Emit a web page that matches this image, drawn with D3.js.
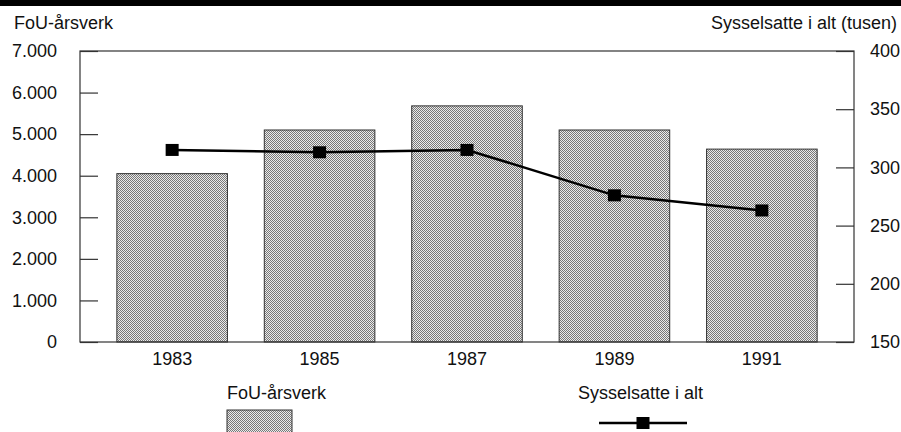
<!DOCTYPE html>
<html>
<head>
<meta charset="utf-8">
<script src="https://cdn.jsdelivr.net/npm/d3@7"></script>
<style>
    body { margin: 0; background: #fff; }
    svg { display: block; font-family: "Liberation Sans", Arial, sans-serif; }
</style>
</head>
<body>
<div id="chart"></div>
<script>
// chart data
const years = ["1983", "1985", "1987", "1989", "1991"];
const fouArsverk = [4050, 5100, 5680, 5100, 4640];
const sysselsatte = [315, 313, 315, 276, 263];
const leftTicks = [0, 1000, 2000, 3000, 4000, 5000, 6000, 7000];
const rightTicks = [150, 200, 250, 300, 350, 400];
const leftTitle = "FoU-årsverk";
const rightTitle = "Sysselsatte i alt (tusen)";
const barLegend = "FoU-årsverk";
const lineLegend = "Sysselsatte i alt";

function drawChart()
{
    const width = 901;
    const height = 432;
    const margin = ({top: 51, right: 47, bottom: 90, left: 80});
    const plot_width = width - margin.left - margin.right;
    const plot_height = height - margin.top - margin.bottom;

    const no = d3.formatLocale({decimal: ",", thousands: ".", grouping: [3], currency: ["", ""]});
    const fmt = no.format(",");

    const xScale = d3.scaleBand(years, [margin.left, margin.left + plot_width])
        .paddingInner(0.25)
        .paddingOuter(0.25);
    const yLeft = d3.scaleLinear([0, 7000], [margin.top + plot_height, margin.top]);
    const yRight = d3.scaleLinear([150, 400], [margin.top + plot_height, margin.top]);

    const svg = d3.select("#chart").append("svg")
        .attr("width", width)
        .attr("height", height)
        .attr("viewBox", [0, 0, width, height]);

    // dithered grey fill like the printed original
    const pat = svg.append("defs").append("pattern")
        .attr("id", "dither")
        .attr("patternUnits", "userSpaceOnUse")
        .attr("width", 2)
        .attr("height", 2)
        .attr("shape-rendering", "crispEdges");
    pat.append("rect").attr("width", 2).attr("height", 2).attr("fill", "#ebebeb");
    pat.append("rect").attr("x", 0).attr("y", 0).attr("width", 1).attr("height", 1).attr("fill", "#787878");
    pat.append("rect").attr("x", 1).attr("y", 1).attr("width", 1).attr("height", 1).attr("fill", "#787878");

    // black band at the top
    svg.append("rect")
        .attr("x", 0).attr("y", 0)
        .attr("width", width).attr("height", 6)
        .attr("fill", "#000");

    // titles
    svg.append("text")
        .attr("x", 14).attr("y", 29)
        .attr("font-size", 18)
        .attr("fill", "#111")
        .text(leftTitle);
    svg.append("text")
        .attr("x", 897).attr("y", 29)
        .attr("text-anchor", "end")
        .attr("font-size", 18)
        .attr("fill", "#111")
        .text(rightTitle);

    // bars
    svg.append("g")
        .selectAll("rect")
        .data(fouArsverk)
        .join("rect")
        .attr("x", (d, i) => xScale(years[i]))
        .attr("width", xScale.bandwidth())
        .attr("y", d => yLeft(d))
        .attr("height", d => yLeft(0) - yLeft(d))
        .attr("fill", "url(#dither)")
        .attr("stroke", "#333")
        .attr("stroke-width", 1);

    // frame
    svg.append("rect")
        .attr("x", margin.left)
        .attr("y", margin.top)
        .attr("width", plot_width)
        .attr("height", plot_height)
        .attr("fill", "none")
        .attr("stroke", "#333")
        .attr("stroke-width", 1.2);

    // left axis
    svg.append("g")
        .attr("transform", `translate(${margin.left},0)`)
        .call(d3.axisLeft(yLeft).tickValues(leftTicks).tickFormat(fmt).tickSizeInner(-18).tickSizeOuter(0).tickPadding(23))
        .call(g => g.select(".domain").remove())
        .call(g => g.selectAll(".tick line").attr("stroke", "#333").attr("stroke-width", 1.2))
        .call(g => g.selectAll(".tick text")
            .attr("font-size", 18)
            .attr("font-family", "Liberation Sans, Arial, sans-serif")
            .attr("fill", "#111"));

    // right axis
    svg.append("g")
        .attr("transform", `translate(${margin.left + plot_width},0)`)
        .call(d3.axisRight(yRight).tickValues(rightTicks).tickSizeInner(-18).tickSizeOuter(0).tickPadding(16))
        .call(g => g.select(".domain").remove())
        .call(g => g.selectAll(".tick line").attr("stroke", "#333").attr("stroke-width", 1.2))
        .call(g => g.selectAll(".tick text")
            .attr("font-size", 18)
            .attr("font-family", "Liberation Sans, Arial, sans-serif")
            .attr("fill", "#111"));

    // x axis labels
    svg.append("g")
        .attr("transform", `translate(0,${margin.top + plot_height})`)
        .call(d3.axisBottom(xScale).tickSize(0).tickPadding(10))
        .call(g => g.select(".domain").remove())
        .call(g => g.selectAll(".tick text")
            .attr("font-size", 18)
            .attr("font-family", "Liberation Sans, Arial, sans-serif")
            .attr("fill", "#111"));

    // line series
    const cx = (d, i) => xScale(years[i]) + xScale.bandwidth() / 2;
    const line = d3.line()
        .x(cx)
        .y(d => yRight(d));
    svg.append("path")
        .datum(sysselsatte)
        .attr("d", line)
        .attr("fill", "none")
        .attr("stroke", "#000")
        .attr("stroke-width", 2.5);
    svg.append("g")
        .selectAll("rect")
        .data(sysselsatte)
        .join("rect")
        .attr("x", (d, i) => cx(d, i) - 6.5)
        .attr("y", d => yRight(d) - 6)
        .attr("width", 13)
        .attr("height", 12)
        .attr("fill", "#000");

    // legend
    const legend = svg.append("g");
    legend.append("text")
        .attr("x", 227).attr("y", 399)
        .attr("font-size", 18)
        .attr("fill", "#111")
        .text(barLegend);
    legend.append("rect")
        .attr("x", 227).attr("y", 410)
        .attr("width", 65).attr("height", 30)
        .attr("fill", "url(#dither)")
        .attr("stroke", "#333");
    legend.append("text")
        .attr("x", 578).attr("y", 399)
        .attr("font-size", 18)
        .attr("fill", "#111")
        .text(lineLegend);
    legend.append("line")
        .attr("x1", 599).attr("x2", 687)
        .attr("y1", 423).attr("y2", 423)
        .attr("stroke", "#000")
        .attr("stroke-width", 2.5);
    legend.append("rect")
        .attr("x", 643 - 6.5).attr("y", 423 - 6)
        .attr("width", 13).attr("height", 12)
        .attr("fill", "#000");

    return svg.node();
}

drawChart();
</script>
</body>
</html>
